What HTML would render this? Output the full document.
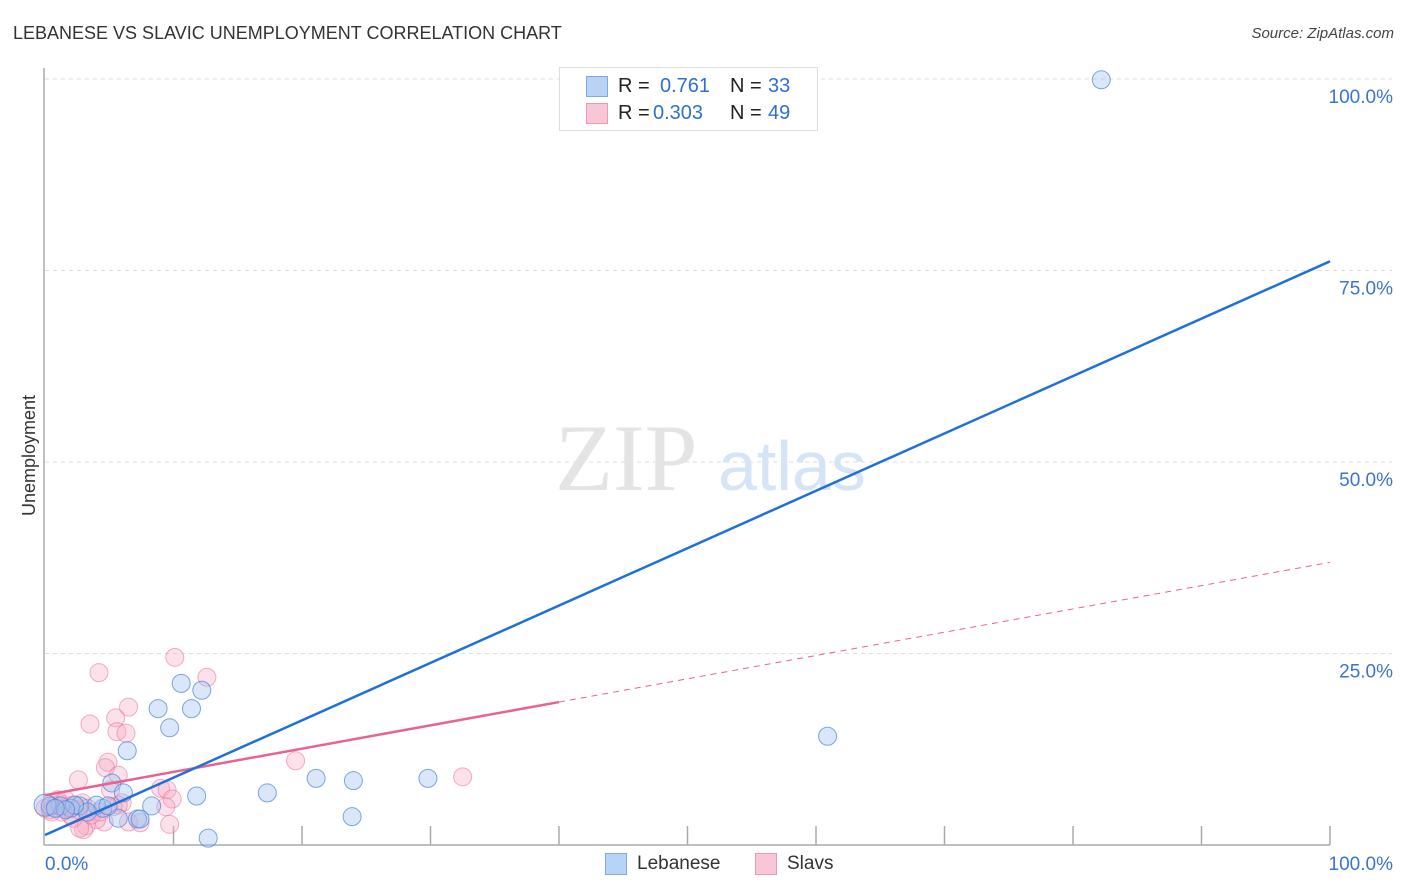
<!DOCTYPE html>
<html><head><meta charset="utf-8"><style>
body{margin:0;background:#fff;font-family:"Liberation Sans",sans-serif;}
#wrap{position:relative;width:1406px;height:892px;overflow:hidden;}
.t{position:absolute;white-space:nowrap;}
</style></head><body>
<div id="wrap">
<div class="t" style="left:13px;top:23px;font-size:18px;color:#333;">LEBANESE VS SLAVIC UNEMPLOYMENT CORRELATION CHART</div>
<div class="t" style="right:12px;top:25px;font-size:15px;color:#444;font-style:italic;">Source: ZipAtlas.com</div>
<div class="t" style="left:-31px;top:445px;font-size:18px;color:#333;transform:rotate(-90deg);">Unemployment</div>
<svg id="svg" width="1406" height="892" style="position:absolute;left:0;top:0"></svg>
<div style="position:absolute;left:559px;top:67px;width:257px;height:62px;border:1px solid #ddd;background:#fff;font-size:20px;">
 <div style="position:absolute;left:26px;top:8px;width:20px;height:19px;background:#b9d3f6;border:1px solid #7ea8e6;"></div>
 <div class="t" style="left:58px;top:7px;color:#222">R = </div><div class="t" style="left:100px;top:7px;color:#2f6fd4">0.761</div>
 <div class="t" style="left:170px;top:7px;color:#222">N = </div><div class="t" style="left:208px;top:7px;color:#2f6fd4">33</div>
 <div style="position:absolute;left:26px;top:35px;width:20px;height:19px;background:#f9c6d5;border:1px solid #ee9ab4;"></div>
 <div class="t" style="left:58px;top:34px;color:#222">R =</div><div class="t" style="left:93px;top:34px;color:#2f6fd4">0.303</div>
 <div class="t" style="left:170px;top:34px;color:#222">N = </div><div class="t" style="left:208px;top:34px;color:#2f6fd4">49</div>
</div>
<div style="position:absolute;left:605px;top:853px;width:20px;height:20px;background:#b9d3f6;border:1px solid #7ea8e6;"></div>
<div class="t" style="left:637px;top:853px;font-size:19px;color:#333">Lebanese</div>
<div style="position:absolute;left:755px;top:853px;width:20px;height:20px;background:#f9c6d5;border:1px solid #ee9ab4;"></div>
<div class="t" style="left:787px;top:853px;font-size:19px;color:#333">Slavs</div>
</div>
<script>
const yTicks=[25,50,75,100];
const yTickLabels=["25.0%","50.0%","75.0%","100.0%"];
const xTickLabels=["0.0%","100.0%"];
const lebX=[82.2,60.9,10.6,8.8,12.2,11.4,9.7,6.4,5.2,6.1,8.3,11.8,17.3,21.1,24.0,29.8,23.9,12.7,7.2,5.7,4.5,4.0,2.7,2.0,1.2,0.4,0.0,3.3,4.9,2.3,1.6,0.8,7.4];
const lebY=[99.9,14.2,21.1,17.8,20.2,17.8,15.3,12.3,8.1,6.8,5.1,6.4,6.8,8.7,8.4,8.7,3.7,0.9,3.4,3.5,4.8,5.2,5.1,4.8,5.1,5.1,5.2,4.3,5.1,5.2,4.6,4.8,3.4];
const slvX=[10.1,12.6,4.2,6.5,5.5,3.5,5.6,6.3,4.9,4.7,5.7,2.6,9.0,9.5,9.9,6.0,5.7,5.3,9.4,7.4,9.7,6.5,4.6,4.0,3.2,3.0,2.7,2.2,2.0,1.6,1.2,0.8,0.4,0.0,0.4,1.3,1.8,2.3,2.9,3.3,3.6,4.3,19.5,32.5,5.1,0.5,1.0,1.6,2.6];
const slvY=[24.5,21.9,22.5,18.0,16.6,15.8,14.8,14.6,10.8,10.1,9.1,8.5,7.4,7.2,6.0,5.5,5.2,5.0,5.0,2.9,2.7,3.0,3.0,3.3,2.5,2.0,2.2,3.5,3.9,4.8,5.4,5.2,5.1,4.8,4.6,4.3,5.1,5.2,5.5,4.8,3.9,4.3,11.0,8.9,7.2,4.3,5.9,5.9,4.6];
const lebLine=[1.3,76.2];
const slvLine=[6.5,36.9];
const slvSolidEnd=40;
const ns="http://www.w3.org/2000/svg";
const svg=document.getElementById('svg');
const X=v=>45+v*12.85, Y=v=>845-v*7.66;
function mk(t,a){const e=document.createElementNS(ns,t);for(const k in a)e.setAttribute(k,a[k]);svg.appendChild(e);return e;}
yTicks.forEach((v,i)=>{const g=mk('line',{x1:45,x2:1392,y1:Y(v),y2:Y(v),stroke:'#ddd','stroke-dasharray':'4,4'});


const t=mk('text',{x:1393,y:Y(v)+24,'text-anchor':'end','font-size':19,fill:'#3b73d1','font-family':'Liberation Sans'});t.textContent=yTickLabels[i];

});
mk('line',{x1:44,x2:44,y1:68,y2:845,stroke:'#aaa','stroke-width':1.5});
mk('line',{x1:44,x2:1330,y1:845,y2:845,stroke:'#aaa','stroke-width':1.5});
for(let i=1;i<=10;i++){mk('line',{x1:X(i*10),x2:X(i*10),y1:826,y2:845,stroke:'#aaa','stroke-width':1.5});}
[[0,'start',45],[100,'end',1393]].forEach((a,i)=>{const t=mk('text',{x:a[2],y:870,'text-anchor':a[1],'font-size':19,fill:'#3b73d1','font-family':'Liberation Sans'});t.textContent=xTickLabels[i];

});
const wm=mk('text',{x:555,y:490,'font-size':95,fill:'#e4e4e4','font-family':'Liberation Serif'});wm.textContent='ZIP';
const wm2=mk('text',{x:718,y:490,'font-size':70,fill:'#d6e4f7','font-family':'Liberation Sans'});wm2.textContent='atlas';


slvX.forEach((x,i)=>{const c=mk('circle',{cx:X(x),cy:Y(slvY[i]),r:9,fill:'rgba(246,170,195,0.35)',stroke:'rgba(236,120,160,0.6)','stroke-width':1});

});
lebX.forEach((x,i)=>{const c=mk('circle',{cx:X(x),cy:Y(lebY[i]),r:i==26?11:9,fill:'rgba(160,195,240,0.4)',stroke:'rgba(70,130,220,0.7)','stroke-width':1});

});
const sy=v=>slvLine[0]+(slvLine[1]-slvLine[0])*v/100;
const l1=mk('line',{x1:X(0),y1:Y(sy(0)),x2:X(slvSolidEnd),y2:Y(sy(slvSolidEnd)),stroke:'#e8638f','stroke-width':2.5});

const l2=mk('line',{x1:X(slvSolidEnd),y1:Y(sy(slvSolidEnd)),x2:X(100),y2:Y(sy(100)),stroke:'#e8638f','stroke-width':1,'stroke-dasharray':'6,5'});

const l3=mk('line',{x1:X(0),y1:Y(lebLine[0]),x2:X(100),y2:Y(lebLine[1]),stroke:'#2170d8','stroke-width':2.5});

</script>
</body></html>
